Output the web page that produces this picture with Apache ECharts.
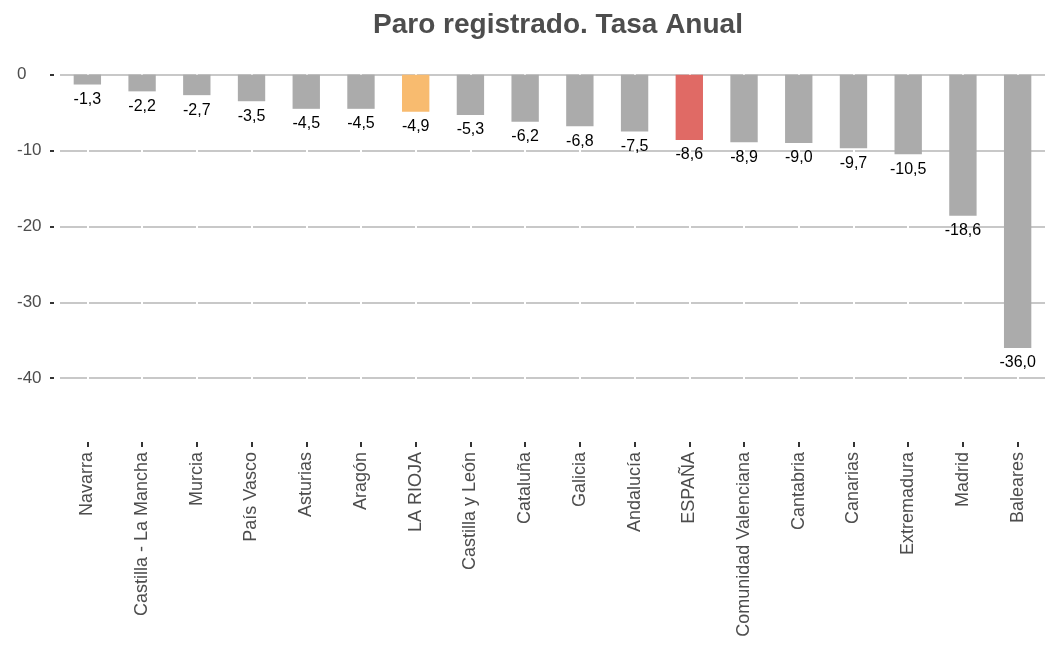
<!DOCTYPE html>
<html><head><meta charset="utf-8">
<script src="https://cdn.jsdelivr.net/npm/echarts@6/dist/echarts.min.js"></script>
<style>html,body{margin:0;padding:0;background:#fff}#c{width:1045px;height:646px}</style>
</head><body><div id="c"></div>
<script>
var categories = ["Navarra","Castilla - La Mancha","Murcia","País Vasco","Asturias","Aragón","LA RIOJA","Castilla y León","Cataluña","Galicia","Andalucía","ESPAÑA","Comunidad Valenciana","Cantabria","Canarias","Extremadura","Madrid","Baleares"];
var values = [-1.3,-2.2,-2.7,-3.5,-4.5,-4.5,-4.9,-5.3,-6.2,-6.8,-7.5,-8.6,-8.9,-9.0,-9.7,-10.5,-18.6,-36.0];
var highlight = {"LA RIOJA":"#f8bb6f","ESPAÑA":"#e06a65"};
var yTicks = [0,-10,-20,-30,-40];

var chart = echarts.init(document.getElementById('c'), null, {renderer:'canvas'});
chart.setOption({
  animation:false,
  backgroundColor:'#fff',
  title:{text:'Paro registrado. Tasa Anual',left:553,textAlign:'center',top:6,
    textStyle:{fontFamily:'Liberation Sans',fontWeight:'bold',fontSize:28,color:'#4d4d4d'}},
  grid:{left:60,top:61,width:995,height:381},
  xAxis:{type:'category',data:categories,
    axisLine:{show:true,onZero:false,lineStyle:{color:'#fff',opacity:0}},
    axisTick:{show:true,alignWithLabel:true,length:5,lineStyle:{color:'#333',width:2,opacity:1}},
    splitLine:{show:false},
    axisLabel:{rotate:90,interval:0,margin:10,fontFamily:'Liberation Sans',fontSize:18,color:'#4d4d4d'}},
  yAxis:{type:'value',min:-48.4,max:1.8,offset:6,
    axisLine:{show:false},
    axisTick:{show:true,length:4,lineStyle:{color:'#333',width:2},customValues:yTicks},
    splitLine:{show:true,lineStyle:{color:'#c8c8c8',width:2}},
    axisLabel:{fontFamily:'Liberation Sans',fontSize:17,color:'#4d4d4d',margin:37,align:'left',
      customValues:yTicks}},
  series:[
    {type:'line',data:[],z:1,silent:true,
      markLine:{silent:true,z:1,symbol:'none',label:{show:false},
        lineStyle:{color:'#ffffff',width:2,type:'solid'},
        data:categories.map(function(c){return {xAxis:c};})}},
    {type:'bar',barWidth:'50%',z:2,
    data:values.map(function(v,i){return {value:v,itemStyle:{color:highlight[categories[i]]||'#ababab'}};}),
    label:{show:true,position:'bottom',distance:7,fontFamily:'Liberation Sans',fontSize:16,color:'#000',
      formatter:function(p){return p.value.toFixed(1).replace('.',',');}}}]
});
</script></body></html>
